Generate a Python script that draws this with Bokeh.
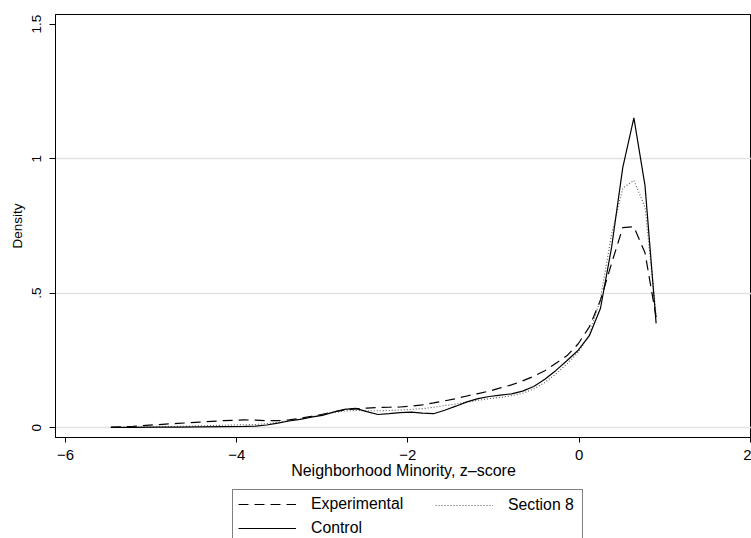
from bokeh.plotting import figure
from bokeh.models import Legend, LegendItem, FixedTicker
from bokeh.layouts import column
from bokeh.embed import file_html
from bokeh.resources import INLINE

# ---- data ----
x_grid = [-5.47, -5.21, -4.95, -4.69, -4.43, -4.17, -3.91, -3.78, -3.65, -3.52,
          -3.39, -3.26, -3.13, -3.00, -2.87, -2.74, -2.61, -2.48, -2.35, -2.22,
          -2.09, -1.96, -1.83, -1.70, -1.57, -1.44, -1.31, -1.18, -1.05, -0.92,
          -0.79, -0.66, -0.53, -0.40, -0.27, -0.14, -0.01, 0.12, 0.25, 0.38,
          0.51, 0.64, 0.77, 0.90]

experimental = [0.002, 0.005, 0.011, 0.016, 0.021, 0.026, 0.029, 0.028, 0.026, 0.026,
                0.029, 0.035, 0.042, 0.050, 0.059, 0.066, 0.070, 0.073, 0.075, 0.076,
                0.077, 0.080, 0.085, 0.092, 0.100, 0.108, 0.118, 0.127, 0.136, 0.148,
                0.159, 0.174, 0.191, 0.212, 0.240, 0.268, 0.312, 0.375, 0.474, 0.611,
                0.744, 0.747, 0.650, 0.411]

section8 = [0.001, 0.002, 0.003, 0.005, 0.007, 0.009, 0.011, 0.012, 0.015, 0.020,
            0.026, 0.032, 0.040, 0.048, 0.056, 0.062, 0.064, 0.063, 0.063, 0.064,
            0.066, 0.068, 0.071, 0.076, 0.082, 0.088, 0.095, 0.102, 0.108, 0.113,
            0.119, 0.128, 0.144, 0.168, 0.200, 0.238, 0.280, 0.345, 0.480, 0.720,
            0.890, 0.919, 0.820, 0.420]

control = [0.001, 0.001, 0.002, 0.002, 0.003, 0.004, 0.005, 0.006, 0.010, 0.017,
           0.025, 0.031, 0.039, 0.046, 0.058, 0.068, 0.072, 0.060, 0.049, 0.052,
           0.056, 0.058, 0.054, 0.052, 0.065, 0.080, 0.096, 0.108, 0.116, 0.121,
           0.126, 0.136, 0.153, 0.180, 0.213, 0.250, 0.288, 0.342, 0.444, 0.671,
           0.967, 1.152, 0.900, 0.388]

x_ticks = [-6, -4, -2, 0, 2]
x_tick_labels = ["\u22126", "\u22124", "\u22122", "0", "2"]
y_ticks = [0, 0.5, 1, 1.5]
y_tick_labels = ["0", ".5", "1", "1.5"]
grid_ticks = [0, 0.5, 1]

FONT = "Liberation Sans"
TXT = "black"
EXP_STYLE = dict(line_color="black", line_width=1.2, line_dash="10 6")
S8_STYLE = dict(line_color="#555555", line_width=1.1, line_dash="1 2")
CTL_STYLE = dict(line_color="black", line_width=1.2)

p = figure(width=751, height=488,
           x_range=(-6.1168, 2.0141), y_range=(-0.0364, 1.536),
           output_backend="svg", toolbar_location=None,
           min_border_left=55, min_border_right=0,
           min_border_top=14, min_border_bottom=51)
p.background_fill_color = "white"
p.border_fill_color = "white"
p.outline_line_color = "black"
p.outline_line_width = 1

# axes
xa = p.xaxis[0]
xa.ticker = FixedTicker(ticks=x_ticks)
xa.major_label_overrides = {t: l for t, l in zip(x_ticks, x_tick_labels)}
xa.minor_tick_line_color = None
xa.major_tick_in = 0
xa.major_tick_out = 5
xa.major_label_standoff = 7
xa.axis_label = "Neighborhood Minority, z\u2013score"
xa.axis_label_text_font = FONT
xa.axis_label_text_font_style = "normal"
xa.axis_label_text_font_size = "16px"
xa.axis_label_text_color = TXT
xa.axis_label_standoff = -1
xa.major_label_text_font = FONT
xa.major_label_text_font_size = "15px"
xa.major_label_text_color = TXT
xa.axis_line_color = "black"
xa.major_tick_line_color = "black"

ya = p.yaxis[0]
ya.ticker = FixedTicker(ticks=y_ticks)
ya.major_label_overrides = {t: l for t, l in zip(y_ticks, y_tick_labels)}
ya.major_label_orientation = "vertical"
ya.minor_tick_line_color = None
ya.major_tick_in = 0
ya.major_tick_out = 6
ya.major_label_standoff = 8
ya.axis_label = "Density"
ya.axis_label_text_font = FONT
ya.axis_label_text_font_style = "normal"
ya.axis_label_text_font_size = "13.5px"
ya.axis_label_text_color = TXT
ya.axis_label_standoff = 5
ya.major_label_text_font = FONT
ya.major_label_text_font_size = "13.5px"
ya.major_label_text_color = TXT
ya.axis_line_color = "black"
ya.major_tick_line_color = "black"

p.xgrid.visible = False
p.ygrid.ticker = FixedTicker(ticks=grid_ticks)
p.ygrid.grid_line_color = "#e2e2e2"
p.ygrid.grid_line_width = 1.5

# density lines
p.line(x_grid, experimental, **EXP_STYLE)
p.line(x_grid, section8, **S8_STYLE)
p.line(x_grid, control, **CTL_STYLE)

# legend strip below the graph (its frame is aligned with the main frame)
# the key renderers use the same data but the strip's y-range keeps them out of view
p2 = figure(width=751, height=50, x_range=(-6.1168, 2.0141), y_range=(5, 6),
            x_axis_type=None, y_axis_type=None,
            output_backend="svg", toolbar_location=None,
            min_border=0)
p2.outline_line_color = None
p2.background_fill_color = "white"
p2.border_fill_color = "white"
k_exp = p2.line(x_grid, experimental, **EXP_STYLE)
k_s8 = p2.line(x_grid, section8, **S8_STYLE)
k_ctl = p2.line(x_grid, control, **CTL_STYLE)

leg_main = Legend(items=[LegendItem(label="Experimental", renderers=[k_exp]),
                         LegendItem(label="Control", renderers=[k_ctl])],
                  location=(177, -5), orientation="vertical",
                  glyph_width=58, glyph_height=18, label_height=18, label_width=266,
                  label_standoff=15, padding=5, spacing=6,
                  border_line_color="black", border_line_width=1,
                  background_fill_color="white", background_fill_alpha=1.0,
                  label_text_font=FONT, label_text_font_size="15.8px",
                  label_text_color=TXT)
leg_s8 = Legend(items=[LegendItem(label="Section 8", renderers=[k_s8])],
                location=(380, 24), orientation="vertical",
                glyph_width=58, glyph_height=18, label_height=18,
                label_standoff=15, padding=0, spacing=0,
                border_line_color=None, background_fill_alpha=0.0,
                label_text_font=FONT, label_text_font_size="15.8px",
                label_text_color=TXT)
p2.add_layout(leg_main)
p2.add_layout(leg_s8)

layout = column(p, p2, spacing=0)
open("out.html", "w").write(file_html(layout, INLINE))
